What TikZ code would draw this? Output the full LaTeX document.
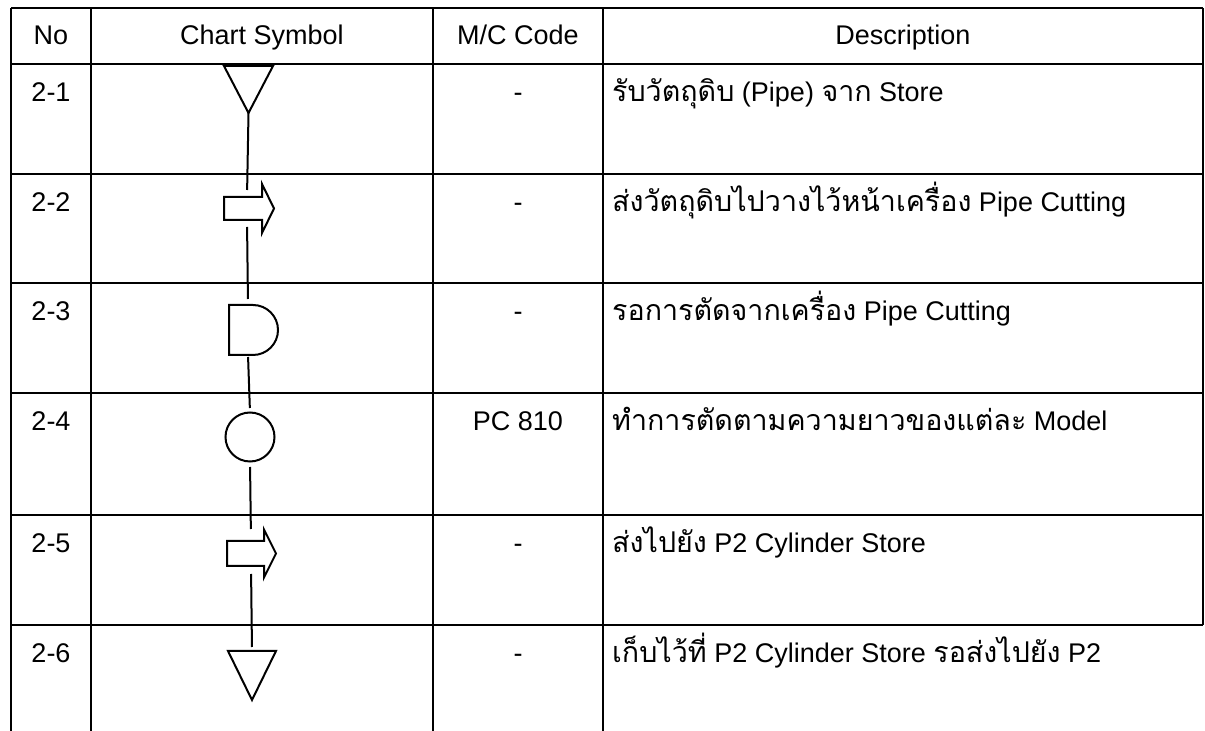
\documentclass[tikz,border=0pt]{standalone}
\usepackage{fontspec}
\setmainfont{Liberation Sans}
\newfontfamily\thaifont[Script=Thai,Scale=1.06]{Loma}
\usepackage{tikz}
\usetikzlibrary{positioning}
\tikzset{
    grid/.style = {
        line width=1.8pt
    },
    symbol/.style = {
        line width=2pt,
        line join=miter
    },
    slot/.style = {
        rectangle,
        inner sep=0pt,
        outer sep=0pt
    },
    flow/.style = {
        line width=2pt
    },
    cell/.style = {
        anchor=base,
        inner sep=0pt,
        font=\fontsize{27}{32}\selectfont
    },
    desc/.style = {
        cell,
        anchor=base west
    }
}

\begin{document}
\begin{tikzpicture}[x=1pt,y=1pt]
\useasboundingbox (0,0) rectangle (1205,731);

\draw[grid] (11,723) -- (1203,723);
\foreach \y in {667,557,448,338,216,106}
    \draw[grid] (11,\y) -- (1203,\y);
\foreach \x in {11,91,433,603}
    \draw[grid] (\x,723) -- (\x,0);
\draw[grid] (1203,723) -- (1203,106);

\node (hNo) [cell] at (51,686) {No};
\node (hSym) [cell] at (262,686) {Chart Symbol};
\node (hCode) [cell] at (518,686) {M/C Code};
\node (hDesc) [cell] at (903,686) {Description};

\foreach \n/\y/\c in {1/629/-, 2/519/-, 3/410/-, 4/300/PC 810, 5/178/-, 6/68/-} {
    \node (no\n) [cell] at (51,\y) {2-\n};
    \node (mc\n) [cell] at (518,\y) {\c};
}

\node (desc1) [desc] at (612,629) {{\thaifont รับวัตถุดิบ} (Pipe) {\thaifont จาก} Store};
\node (desc2) [desc] at (612,519) {{\thaifont ส่งวัตถุดิบไปวางไว้หน้าเครื่อง} Pipe Cutting};
\node (desc3) [desc] at (612,410) {{\thaifont รอการตัดจากเครื่อง} Pipe Cutting};
\node (desc4) [desc] at (612,300) {{\thaifont ทำการตัดตามความยาวของแต่ละ} Model};
\node (desc5) [desc] at (612,178) {{\thaifont ส่งไปยัง} P2 Cylinder Store};
\node (desc6) [desc] at (612,68) {{\thaifont เก็บไว้ที่} P2 Cylinder Store {\thaifont รอส่งไปยัง} P2};

\node (store1) [slot, minimum height=47] at (248.5,641.5) {};
\draw[symbol] (store1.north) ++(-24.5,0) -- ++(49,0) -- (store1.south) -- cycle;

\node (move2) [slot, minimum height=23] at (247,522.5) {};
\draw[symbol] (move2.north) ++(-23,0) -- ++(38,0) -- ++(0,13) -- ++(12,-24.5)
    -- ++(-12,-24.5) -- ++(0,13) -- ++(-38,0) -- cycle;

\node (delay3) [slot, minimum height=50] at (248,401) {};
\draw[symbol] (delay3.north) ++(-19,0) -- ++(24,0)
    arc[start angle=90, end angle=-90, radius=25] -- ++(-24,0) -- cycle;

\node (cut4) [circle, draw, symbol, minimum size=49, inner sep=0pt, outer sep=0pt] at (250,294) {};

\node (move5) [slot, minimum height=25] at (251,177.5) {};
\draw[symbol] (move5.north) ++(-24,0) -- ++(37,0) -- ++(0,11.5) -- ++(12,-24)
    -- ++(-12,-24) -- ++(0,11.5) -- ++(-37,0) -- cycle;

\node (store6) [slot, minimum height=49] at (252,55.5) {};
\draw[symbol] (store6.north) ++(-24,0) -- ++(48,0) -- (store6.south) -- cycle;

\foreach \a/\b/\s/\e in {store1/move2/0/7, move2/delay3/7/6, delay3/cut4/2/4.5,
                         cut4/move5/5.5/12, move5/store6/8/4}
    \draw[flow, shorten <=\s pt, shorten >=\e pt] (\a.south) -- (\b.north);
\end{tikzpicture}
\end{document}
